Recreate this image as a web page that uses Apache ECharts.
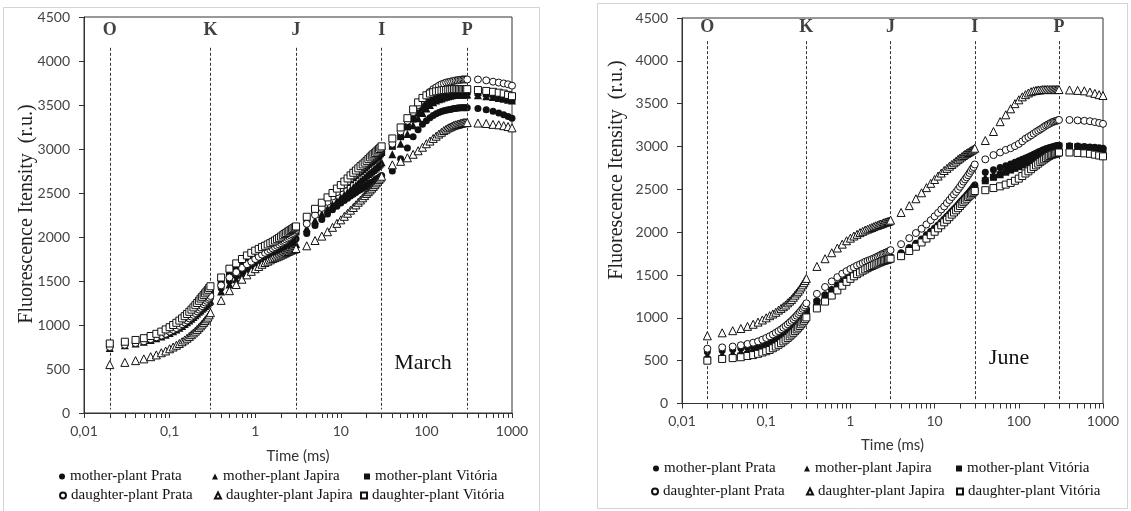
<!DOCTYPE html>
<html>
<head>
<meta charset="utf-8">
<script src="https://cdn.jsdelivr.net/npm/echarts@6.0.0/dist/echarts.min.js"></script>
<style>
html,body{margin:0;padding:0;background:#fff;}
#chart{width:1131px;height:511px;}
</style>
</head>
<body>
<div id="chart"></div>
<script>
// ---------- DATA ----------
const seriesNames = ['mother-plant Prata','mother-plant Japira','mother-plant Vitória','daughter-plant Prata','daughter-plant Japira','daughter-plant Vitória'];
const panelTitles = ['March','June'];
const phaseNames = ['O','K','J','I','P'];
const phaseTimes = [0.02, 0.3, 3, 30, 300];
const xLabelValues = [0.01, 0.1, 1, 10, 100, 1000];
const xTickLabels = ['0,01','0,1','1','10','100','1000'];
const yAxisTitle = 'Fluorescence Itensity  (r.u.)';
const xAxisTitle = 'Time (ms)';

// time points (ms)
const time = [
  0.02,0.03,0.04,0.05,0.06,0.07,0.08,0.09,0.10,0.11,0.12,0.13,0.14,0.15,0.16,0.17,0.18,0.19,0.20,0.21,0.22,0.23,0.24,0.25,0.26,0.27,0.28,0.29,0.30,
  0.4,0.5,0.6,0.7,0.8,0.9,1.0,1.1,1.2,1.3,1.4,1.5,1.6,1.7,1.8,1.9,2.0,2.1,2.2,2.3,2.4,2.5,2.6,2.7,2.8,2.9,3.0,
  4,5,6,7,8,9,10,11,12,13,14,15,16,17,18,19,20,21,22,23,24,25,26,27,28,29,30,
  40,50,60,70,80,90,100,110,120,130,140,150,160,170,180,190,200,210,220,230,240,250,260,270,280,290,300,
  400,500,600,700,800,900,1000
];

// ---- March ----
const marchMotherPrata = [
  760,780,800,820,840,860,880,905,925,950,970,995,1015,1040,1060,1080,1100,1120,1140,1160,1180,1200,1215,1235,1250,1265,1280,1295,1310,
  1420,1500,1560,1610,1650,1680,1710,1735,1755,1775,1790,1805,1820,1835,1850,1860,1875,1885,1900,1910,1920,1930,1940,1950,1960,1970,1980,
  2040,2130,2200,2260,2310,2350,2385,2415,2440,2465,2485,2505,2525,2540,2555,2570,2585,2600,2610,2620,2630,2645,2655,2665,2675,2685,2700,
  2750,2890,3010,3140,3220,3280,3320,3355,3380,3400,3415,3425,3435,3440,3445,3450,3455,3460,3460,3465,3465,3470,3470,3470,3470,3470,3470,
  3460,3445,3430,3410,3390,3370,3350
];
const marchMotherJapira = [
  740,770,790,810,830,850,870,890,910,930,950,970,990,1010,1030,1050,1070,1090,1110,1130,1150,1165,1185,1200,1215,1230,1245,1260,1275,
  1380,1460,1520,1570,1610,1640,1665,1690,1710,1725,1740,1755,1770,1780,1795,1805,1815,1825,1840,1850,1860,1870,1880,1890,1900,1910,1920,
  2100,2190,2260,2320,2370,2410,2450,2480,2510,2540,2565,2590,2615,2635,2655,2675,2695,2715,2730,2745,2760,2775,2790,2805,2820,2835,2850,
  2940,3060,3170,3270,3350,3410,3460,3500,3530,3550,3565,3575,3585,3595,3600,3605,3610,3615,3615,3620,3620,3620,3620,3620,3620,3620,3620,
  3610,3600,3590,3580,3570,3560,3550
];
const marchMotherVitoria = [
  780,800,820,840,860,885,905,930,955,980,1000,1025,1050,1070,1095,1115,1140,1160,1180,1200,1220,1240,1260,1280,1300,1320,1335,1350,1370,
  1480,1570,1630,1680,1720,1750,1780,1805,1825,1845,1865,1880,1895,1910,1925,1940,1950,1965,1975,1990,2000,2010,2020,2030,2040,2050,2060,
  2200,2290,2360,2420,2470,2515,2555,2590,2620,2650,2675,2700,2725,2745,2765,2785,2805,2825,2840,2855,2870,2885,2900,2915,2930,2945,2960,
  3030,3140,3250,3340,3410,3470,3510,3540,3565,3585,3600,3610,3620,3625,3630,3635,3640,3640,3645,3645,3650,3650,3650,3650,3650,3650,3650,
  3640,3630,3620,3605,3595,3580,3565
];
const marchDaughterPrata = [
  750,775,795,815,840,860,880,900,925,945,965,990,1010,1030,1050,1075,1095,1115,1135,1155,1175,1195,1215,1235,1255,1275,1295,1310,1330,
  1450,1540,1600,1650,1690,1720,1750,1775,1800,1820,1840,1855,1870,1885,1900,1915,1930,1945,1955,1970,1985,2000,2015,2030,2045,2060,2080,
  2150,2250,2330,2400,2460,2510,2555,2595,2630,2665,2695,2720,2745,2770,2795,2815,2835,2855,2875,2895,2910,2930,2945,2960,2975,2990,3010,
  3060,3200,3320,3420,3500,3560,3610,3650,3680,3700,3720,3735,3745,3755,3760,3765,3770,3775,3780,3780,3785,3785,3790,3790,3790,3790,3790,
  3790,3780,3765,3755,3745,3735,3720
];
const marchDaughterJapira = [
  550,575,595,615,640,660,685,705,730,750,770,790,810,830,850,870,890,910,930,950,970,990,1010,1030,1050,1070,1090,1115,1140,
  1280,1390,1460,1520,1570,1610,1640,1665,1690,1710,1725,1740,1755,1765,1775,1785,1795,1805,1815,1825,1835,1840,1850,1855,1860,1865,1870,
  1900,1960,2010,2060,2110,2155,2195,2235,2270,2305,2335,2365,2395,2420,2445,2470,2495,2515,2535,2555,2575,2595,2615,2635,2655,2670,2690,
  2820,2860,2900,2940,2980,3020,3060,3090,3120,3145,3170,3190,3210,3225,3240,3250,3260,3270,3275,3280,3285,3290,3295,3300,3300,3300,3300,
  3295,3290,3280,3275,3265,3255,3240
];
const marchDaughterVitoria = [
  790,810,830,850,875,900,925,950,975,1000,1025,1050,1075,1100,1125,1150,1175,1200,1225,1250,1275,1300,1320,1340,1360,1380,1400,1420,1440,
  1540,1640,1700,1750,1790,1820,1845,1865,1885,1900,1915,1930,1945,1960,1975,1990,2005,2020,2035,2045,2060,2070,2080,2090,2100,2110,2120,
  2230,2320,2390,2450,2500,2550,2590,2630,2665,2700,2730,2755,2780,2805,2825,2845,2865,2885,2905,2925,2940,2955,2970,2985,3000,3015,3030,
  3120,3245,3350,3450,3530,3580,3610,3630,3645,3655,3660,3665,3670,3670,3675,3675,3680,3680,3680,3680,3680,3680,3680,3680,3680,3680,3680,
  3670,3660,3650,3640,3630,3615,3600
];

// ---- June ----
const juneMotherPrata = [
  605,620,630,645,655,670,685,700,715,730,745,765,785,805,825,845,865,885,905,925,945,965,985,1005,1025,1045,1065,1085,1105,
  1200,1270,1330,1385,1430,1465,1495,1520,1540,1560,1575,1590,1605,1615,1625,1635,1645,1655,1660,1670,1675,1680,1690,1695,1700,1705,1710,
  1760,1820,1870,1920,1970,2010,2050,2085,2120,2155,2185,2215,2245,2270,2295,2320,2345,2370,2390,2410,2430,2450,2470,2490,2510,2530,2550,
  2700,2730,2755,2775,2795,2815,2835,2850,2865,2880,2895,2910,2920,2935,2945,2955,2965,2975,2980,2985,2990,2995,3000,3005,3010,3010,3015,
  3010,3005,3000,2995,2990,2985,2980
];
const juneMotherJapira = [
  560,575,590,605,620,635,650,670,690,710,730,750,770,790,810,830,850,870,890,910,930,950,970,990,1010,1030,1050,1070,1090,
  1190,1260,1320,1375,1420,1455,1485,1510,1535,1555,1570,1585,1600,1610,1620,1630,1640,1650,1655,1665,1670,1675,1685,1690,1695,1700,1705,
  1750,1810,1860,1905,1950,1995,2035,2070,2105,2140,2170,2200,2230,2255,2280,2305,2330,2355,2375,2395,2415,2435,2455,2475,2495,2510,2530,
  2640,2680,2710,2735,2760,2780,2800,2820,2835,2850,2865,2880,2895,2910,2920,2930,2940,2950,2960,2970,2975,2980,2985,2990,2995,3000,3000,
  2995,2990,2985,2980,2970,2960,2950
];
const juneMotherVitoria = [
  510,525,535,555,570,585,600,620,640,660,680,700,720,740,760,780,800,825,850,875,900,925,950,975,1000,1020,1040,1060,1080,
  1180,1250,1310,1365,1410,1450,1480,1505,1530,1550,1565,1580,1595,1605,1615,1625,1635,1645,1650,1660,1665,1670,1680,1685,1690,1695,1700,
  1730,1790,1840,1890,1940,1980,2020,2060,2095,2130,2160,2190,2220,2245,2270,2295,2320,2345,2365,2385,2405,2425,2445,2465,2480,2495,2510,
  2600,2640,2670,2700,2725,2745,2765,2785,2805,2825,2840,2860,2875,2890,2905,2920,2935,2945,2955,2965,2975,2980,2985,2990,2995,3000,3005,
  3000,2995,2990,2980,2975,2965,2955
];
const juneDaughterPrata = [
  640,655,665,680,695,710,725,745,765,785,805,825,845,865,885,905,925,945,965,985,1005,1025,1045,1065,1085,1105,1125,1145,1170,
  1280,1360,1425,1475,1515,1545,1570,1590,1610,1625,1640,1655,1665,1675,1685,1695,1705,1715,1725,1735,1745,1750,1760,1765,1770,1780,1790,
  1860,1930,1990,2040,2090,2140,2185,2225,2265,2300,2340,2375,2410,2440,2470,2500,2530,2560,2590,2615,2640,2665,2690,2715,2740,2760,2790,
  2850,2900,2930,2960,2980,3005,3030,3060,3090,3110,3130,3150,3170,3185,3200,3215,3230,3245,3255,3265,3275,3285,3290,3295,3300,3305,3310,
  3310,3305,3300,3295,3285,3275,3265
];
const juneDaughterJapira = [
  790,825,850,875,900,925,950,975,1000,1025,1045,1065,1090,1110,1130,1150,1175,1195,1215,1240,1265,1290,1310,1335,1360,1385,1410,1435,1460,
  1600,1690,1760,1815,1860,1900,1930,1955,1975,1995,2010,2025,2035,2045,2055,2065,2075,2080,2090,2095,2100,2110,2115,2120,2125,2130,2140,
  2230,2310,2390,2460,2520,2570,2615,2655,2690,2720,2745,2770,2790,2810,2830,2850,2865,2880,2895,2910,2920,2930,2940,2950,2960,2970,2980,
  3070,3175,3290,3370,3440,3500,3545,3580,3605,3625,3640,3650,3655,3660,3660,3665,3665,3665,3665,3665,3665,3665,3665,3665,3665,3665,3665,
  3660,3655,3650,3635,3620,3605,3595
];
const juneDaughterVitoria = [
  500,520,530,540,555,565,580,595,610,625,645,665,685,705,725,745,765,785,805,825,845,865,885,905,925,945,965,985,1005,
  1110,1190,1260,1320,1375,1420,1455,1485,1510,1530,1550,1565,1580,1595,1605,1615,1625,1635,1645,1650,1660,1665,1670,1675,1680,1685,1690,
  1720,1780,1830,1880,1925,1965,2005,2045,2080,2115,2145,2175,2205,2230,2255,2280,2305,2330,2350,2370,2390,2410,2425,2440,2455,2465,2480,
  2490,2515,2535,2555,2575,2600,2625,2655,2685,2710,2735,2760,2780,2800,2820,2835,2850,2865,2880,2890,2900,2905,2910,2915,2920,2925,2930,
  2930,2925,2920,2915,2905,2895,2885
];

const marchSeries = [marchMotherPrata, marchMotherJapira, marchMotherVitoria, marchDaughterPrata, marchDaughterJapira, marchDaughterVitoria];
const juneSeries = [juneMotherPrata, juneMotherJapira, juneMotherVitoria, juneDaughterPrata, juneDaughterJapira, juneDaughterVitoria];

// ---------- STYLE ----------
const INK = '#111';
const SERIF = 'Liberation Serif';
const SANS = 'Lato';
const markerStyles = [
  {symbol:'circle', size:7, fill:INK},
  {symbol:'triangle', size:8, fill:INK},
  {symbol:'rect', size:7, fill:INK},
  {symbol:'circle', size:7, fill:'#fff'},
  {symbol:'triangle', size:8, fill:'#fff'},
  {symbol:'rect', size:7, fill:'#fff'}
];

// minor tick positions on the log axis (1..9 per decade)
const minorTickValues = [];
[0.01, 0.1, 1, 10, 100].forEach(d => { for (let m = 1; m <= 9; m++) minorTickValues.push(+(d * m).toPrecision(6)); });
minorTickValues.push(1000);

function xLabelFmt(v) {
  for (let i = 0; i < xLabelValues.length; i++) {
    if (Math.abs(v - xLabelValues[i]) / xLabelValues[i] < 1e-6) return xTickLabels[i];
  }
  return '';
}

const grids = [
  {left:84, right:1131-512, top:17, bottom:511-413},
  {left:682, right:1131-1103, top:18, bottom:511-403.5}
];
const nameGaps = [36, 34];
const letterY = [4352, 4395];
const lineTop = [4150, 4230];

const legendText = {fontFamily:SERIF, fontSize:15, color:INK};

const option = {
  animation:false,
  backgroundColor:'#fff',
  textStyle:{fontFamily:SERIF, fontSize:15, color:INK},
  grid: grids.map(g => Object.assign({show:true, borderColor:'#333', borderWidth:1, backgroundColor:'transparent'}, g)),
  xAxis: [0,1].map(i => ({
    type:'log', logBase:10, gridIndex:i, min:0.01, max:1000,
    axisLine:{show:true, onZero:false, lineStyle:{color:'#333', width:1}},
    axisTick:{show:true, inside:false, length:5, customValues:minorTickValues, lineStyle:{color:'#333'}},
    axisLabel:{show:true, customValues:xLabelValues, formatter:xLabelFmt, margin:11, fontFamily:SANS, fontSize:14, color:'#444'},
    minorTick:{show:false}, splitLine:{show:false},
    name:xAxisTitle, nameLocation:'middle', nameGap:nameGaps[i],
    nameTextStyle:{fontFamily:SANS, fontSize:15, color:'#333'}
  })),
  yAxis: [0,1].map(i => ({
    type:'value', gridIndex:i, min:0, max:4500, interval:500,
    axisLine:{show:true, lineStyle:{color:'#333', width:1}},
    axisTick:{show:true, inside:false, length:5, lineStyle:{color:'#333'}},
    axisLabel:{margin:14, fontFamily:SANS, fontSize:14, color:'#444', formatter: v => String(v)},
    splitLine:{show:false}
  })),
  legend: [],
  series: [],
  graphic: []
};

// data series
[marchSeries, juneSeries].forEach((panel, gi) => {
  panel.forEach((vals, si) => {
    const ms = markerStyles[si];
    option.series.push({
      type:'scatter', name:seriesNames[si], xAxisIndex:gi, yAxisIndex:gi,
      symbol:ms.symbol, symbolSize:ms.size,
      itemStyle:{color:ms.fill, borderColor:INK, borderWidth: ms.fill === INK ? 0 : 1, opacity:1},
      emphasis:{disabled:true},
      data: time.map((t, k) => [t, vals[k]]),
      z: 3 + si
    });
  });
  // phase letters and dashed phase lines
  option.series.push({
    type:'scatter', name:'phases-' + gi, xAxisIndex:gi, yAxisIndex:gi,
    symbolSize:0, silent:true, z:10,
    data: phaseTimes.map((t, k) => ({value:[t, letterY[gi]], name:phaseNames[k]})),
    label:{show:true, position:'inside', formatter:'{b}', fontFamily:SERIF, fontWeight:'bold', fontSize:18, color:INK},
    markLine:{
      silent:true, symbol:['none','none'], label:{show:false},
      lineStyle:{type:[3,2], color:'#333', width:1},
      emphasis:{disabled:true},
      data: phaseTimes.map(t => [{coord:[t, lineTop[gi]]}, {coord:[t, 40]}])
    }
  });
});

// legends: one per item, laid out in 3 columns x 2 rows under each panel
const legendLayout = [
  {rows:[478, 497], cols:[[62,215,367],[62,217,363]]},
  {rows:[470, 493], cols:[[656,807,959],[654,809,959]]}
];
legendLayout.forEach(L => {
  seriesNames.forEach((n, si) => {
    const row = si < 3 ? 0 : 1, col = si % 3;
    option.legend.push({
      show:true,
      data:[n],
      left: L.cols[row][col] - 3, top: L.rows[row] - 9,
      padding:0, itemWidth:6, itemHeight:6, itemGap:0, selectedMode:false,
      textStyle:legendText,
      formatter:'{a|{name}}'.replace('{a|{name}}', '{name}')
    });
  });
});

// frames and free texts
option.graphic.push(
  {type:'rect', z:-1, silent:true, shape:{x:3.5, y:7.5, width:536, height:510}, style:{fill:'none', stroke:'#d4d4d4', lineWidth:1}},
  {type:'rect', z:-1, silent:true, shape:{x:597.5, y:3.5, width:530, height:505}, style:{fill:'none', stroke:'#d4d4d4', lineWidth:1}},
  {type:'text', x:27, y:214, rotation:Math.PI/2, silent:true,
   style:{text:yAxisTitle, fontFamily:SERIF, fontSize:20, fill:'#222', align:'center', verticalAlign:'middle'}},
  {type:'text', x:617, y:170, rotation:Math.PI/2, silent:true,
   style:{text:yAxisTitle, fontFamily:SERIF, fontSize:20, fill:'#222', align:'center', verticalAlign:'middle'}},
  {type:'text', x:423, y:363, silent:true,
   style:{text:panelTitles[0], fontFamily:SERIF, fontSize:22, fill:INK, align:'center', verticalAlign:'middle'}},
  {type:'text', x:1009, y:358, silent:true,
   style:{text:panelTitles[1], fontFamily:SERIF, fontSize:22, fill:INK, align:'center', verticalAlign:'middle'}}
);

const chart = echarts.init(document.getElementById('chart'), null, {renderer:'canvas', width:1131, height:511});
chart.setOption(option);
</script>
</body>
</html>
